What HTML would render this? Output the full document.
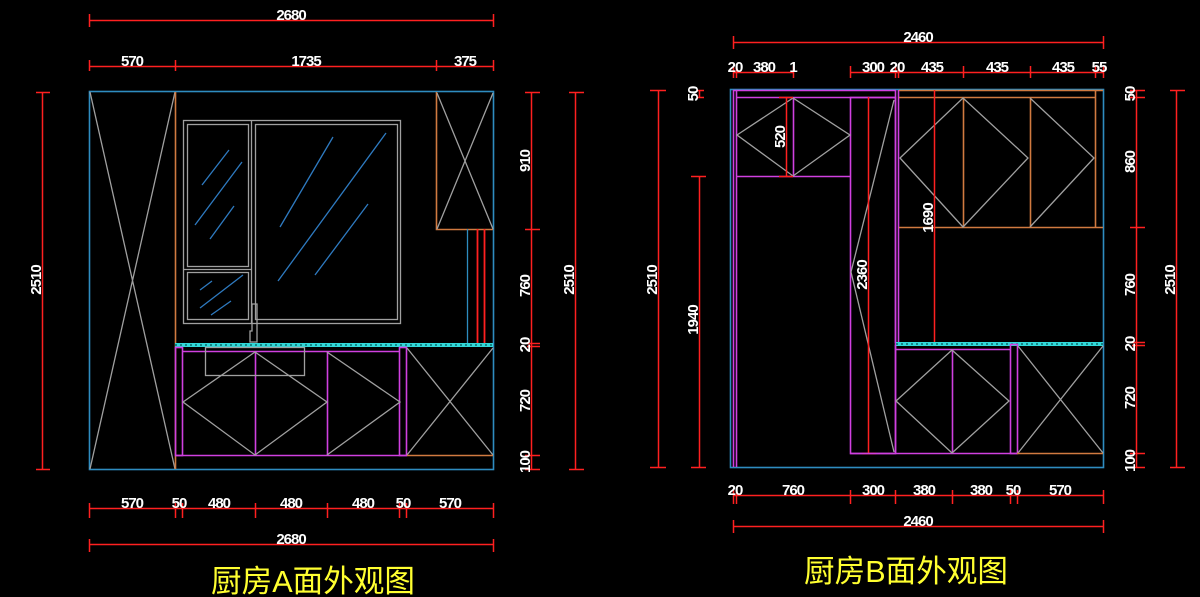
<!DOCTYPE html>
<html><head><meta charset="utf-8"><style>
html,body{margin:0;padding:0;background:#000;}
svg{display:block}
.t{fill:#fff;font-family:"Liberation Sans",sans-serif;font-size:15px;font-weight:bold;letter-spacing:-1px;text-anchor:middle}
.y{fill:#ffff30;font-family:"Liberation Sans","Noto Sans CJK SC",sans-serif;font-size:31px}
</style></head><body>
<svg width="1200" height="597" viewBox="0 0 1200 597" xmlns="http://www.w3.org/2000/svg" fill="none" stroke-width="1.3">
<!-- ===== A ===== -->
<g>
<rect x="89.5" y="91.5" width="404" height="378" stroke="#2e8cc0" stroke-width="1.6"/>
<path d="M90 92 L175 469 M175 92 L90 469" stroke="#a0a0a0"/>
<line x1="175.5" y1="92" x2="175.5" y2="469" stroke="#d07a40" stroke-width="1.6"/>
<rect x="183.5" y="120.5" width="217" height="203" stroke="#a0a0a0"/>
<rect x="187.5" y="124.5" width="61" height="142" stroke="#a0a0a0"/>
<rect x="187.5" y="272.5" width="61" height="47" stroke="#a0a0a0"/>
<rect x="255.5" y="124.5" width="142" height="195" stroke="#a0a0a0"/>
<line x1="251.5" y1="120" x2="251.5" y2="323" stroke="#a0a0a0"/>
<line x1="183" y1="269.5" x2="251" y2="269.5" stroke="#a0a0a0"/>
<path d="M202 185 L229 150 M195 225 L242 162 M210 239 L234 206 M280 227 L333 137 M278 281 L386 133 M315 275 L368 204 M200 290 L212 281 M200 308 L243 275 M211 315 L231 301" stroke="#2e7ac0"/>
<path d="M252 304 L257 304 L257 333 M252 304 L252 331 L250 331 L250 342 L257 342 L257 333" stroke="#a0a0a0"/>
<path d="M436.5 92 L436.5 229.5 L493 229.5" stroke="#d07a40" stroke-width="1.6"/>
<path d="M437 93 L493 229 M493 93 L437 229" stroke="#a0a0a0"/>
<line x1="467.5" y1="229" x2="467.5" y2="343" stroke="#2e8cc0"/>
<line x1="477.5" y1="229" x2="477.5" y2="343" stroke="#ff2020" stroke-width="1.8"/>
<line x1="484.5" y1="229" x2="484.5" y2="343" stroke="#ff2020" stroke-width="1.8"/>
<rect x="175" y="343" width="318" height="4" fill="#30d8d8"/>
<line x1="175" y1="345" x2="493" y2="345" stroke="#0a5050" stroke-dasharray="2 3"/>
<rect x="175.5" y="347.5" width="7" height="108" stroke="#d040e0" stroke-width="1.6"/>
<path d="M182 351.5 L400 351.5 M175 455.5 L407 455.5 M255.5 351 L255.5 455 M327.5 351 L327.5 455" stroke="#d040e0" stroke-width="1.6"/>
<rect x="399.5" y="347.5" width="7" height="108" stroke="#d040e0" stroke-width="1.6"/>
<rect x="205.5" y="347.5" width="99" height="28" stroke="#a0a0a0"/>
<path d="M183 402 L255 352 L327 402 L255 455 Z M327 352 L400 402 L327 455 M407 348 L493 455 M493 348 L407 455" stroke="#a0a0a0"/>
<line x1="407" y1="455.5" x2="493" y2="455.5" stroke="#d07a40" stroke-width="1.6"/>
</g>
<g stroke="#ff2020" stroke-width="1.5">
<path d="M89 20.5 L493 20.5 M89.5 14 L89.5 27 M493.5 14 L493.5 27"/>
<path d="M89 66.5 L493 66.5 M89.5 60 L89.5 71 M175.5 60 L175.5 71 M436.5 60 L436.5 71 M493.5 60 L493.5 71"/>
<path d="M42.5 92 L42.5 469 M36 92.5 L50 92.5 M36 469.5 L50 469.5"/>
<path d="M531.5 92 L531.5 469 M525 92.5 L540 92.5 M525 229.5 L540 229.5 M527 343.5 L540 343.5 M527 346.5 L540 346.5 M525 455.5 L540 455.5 M525 469.5 L540 469.5"/>
<path d="M575.5 92 L575.5 469 M569 92.5 L584 92.5 M569 469.5 L584 469.5"/>
<path d="M89 508.5 L493 508.5 M89.5 503 L89.5 518 M175.5 503 L175.5 518 M182.5 503 L182.5 518 M255.5 503 L255.5 518 M327.5 503 L327.5 518 M399.5 503 L399.5 518 M406.5 503 L406.5 518 M493.5 503 L493.5 518"/>
<path d="M89 544.5 L493 544.5 M89.5 539 L89.5 552 M493.5 539 L493.5 552"/>
</g>
<g class="t">
<text x="291" y="20">2680</text>
<text x="132" y="66">570</text><text x="306" y="66">1735</text><text x="465" y="66">375</text>
<text x="132" y="508">570</text><text x="179" y="508">50</text><text x="219" y="508">480</text><text x="291" y="508">480</text><text x="363" y="508">480</text><text x="403" y="508">50</text><text x="450" y="508">570</text>
<text x="291" y="544">2680</text>
<text transform="translate(41,280) rotate(-90)">2510</text>
<text transform="translate(530,161) rotate(-90)">910</text>
<text transform="translate(530,286) rotate(-90)">760</text>
<text transform="translate(530,345) rotate(-90)">20</text>
<text transform="translate(530,401) rotate(-90)">720</text>
<text transform="translate(530,462) rotate(-90)">100</text>
<text transform="translate(574,280) rotate(-90)">2510</text>
</g>
<!-- ===== B ===== -->
<g>
<rect x="730.5" y="89.5" width="373" height="378" stroke="#2e8cc0" stroke-width="1.6"/>
<path d="M733.5 90 L733.5 467 M736.5 90 L736.5 467 M733 90.5 L896 90.5 M736 97.5 L896 97.5 M736 176.5 L850 176.5 M793.5 97 L793.5 176" stroke="#d040e0" stroke-width="1.6"/>
<rect x="850.5" y="97.5" width="45" height="356" stroke="#d040e0" stroke-width="1.6"/>
<path d="M895.5 90 L895.5 343 M898.5 90 L898.5 343" stroke="#d040e0" stroke-width="1.6"/>
<path d="M737 135 L793 98 L850 135 L793 176 Z M894 100 L851 272 L894 452" stroke="#a0a0a0"/>
<path d="M899 90.5 L1103 90.5 M899 97.5 L1095 97.5 M899 227.5 L1103 227.5 M963.5 97 L963.5 227 M1030.5 97 L1030.5 227 M1095.5 90 L1095.5 227" stroke="#d07a40" stroke-width="1.6"/>
<path d="M900 158 L963 98 L1028 158 L963 227 Z M1030 98 L1094 158 L1030 227" stroke="#a0a0a0"/>
<path d="M786.5 97 L786.5 176 M779 97.5 L793 97.5 M779 176.5 L793 176.5 M868.5 97 L868.5 453 M862 453.5 L876 453.5 M934.5 90 L934.5 344 M928 343.5 L942 343.5" stroke="#ff2020" stroke-width="1.5"/>
<rect x="896" y="342" width="207" height="4" fill="#30d8d8"/>
<line x1="896" y1="344" x2="1103" y2="344" stroke="#0a5050" stroke-dasharray="2 3"/>
<path d="M895.5 345 L895.5 453 M896 349.5 L1010 349.5 M850 453.5 L1017 453.5 M952.5 349 L952.5 453" stroke="#d040e0" stroke-width="1.6"/>
<rect x="1010.5" y="344.5" width="7" height="109" stroke="#d040e0" stroke-width="1.6"/>
<path d="M896 401 L952 350 L1009 401 L952 453 Z M1018 346 L1103 453 M1103 346 L1018 453" stroke="#a0a0a0"/>
<line x1="1017" y1="453.5" x2="1103" y2="453.5" stroke="#d07a40" stroke-width="1.6"/>
</g>
<g stroke="#ff2020" stroke-width="1.5">
<path d="M733 42.5 L1103 42.5 M733.5 36 L733.5 49 M1103.5 36 L1103.5 49"/>
<path d="M733 72.5 L793 72.5 M733.5 66 L733.5 78 M736.5 66 L736.5 78 M793.5 66 L793.5 78"/>
<path d="M850 72.5 L1103 72.5 M850.5 66 L850.5 78 M895.5 66 L895.5 78 M898.5 66 L898.5 78 M963.5 66 L963.5 78 M1030.5 66 L1030.5 78 M1095.5 66 L1095.5 78 M1103.5 66 L1103.5 78"/>
<path d="M658.5 90 L658.5 467 M650 90.5 L666 90.5 M650 467.5 L666 467.5"/>
<path d="M699.5 176 L699.5 467 M691 176.5 L706 176.5 M691 467.5 L706 467.5 M699.5 90 L699.5 97 M697 90.5 L704 90.5 M697 97.5 L704 97.5"/>
<path d="M1136.5 90 L1136.5 467 M1130 90.5 L1145 90.5 M1130 97.5 L1145 97.5 M1130 227.5 L1145 227.5 M1132 342.5 L1145 342.5 M1132 345.5 L1145 345.5 M1130 453.5 L1145 453.5 M1130 467.5 L1145 467.5"/>
<path d="M1176.5 90 L1176.5 467 M1170 90.5 L1185 90.5 M1170 467.5 L1185 467.5"/>
<path d="M733 495.5 L1103 495.5 M733.5 490 L733.5 504 M736.5 490 L736.5 504 M850.5 490 L850.5 504 M895.5 490 L895.5 504 M952.5 490 L952.5 504 M1010.5 490 L1010.5 504 M1017.5 490 L1017.5 504 M1103.5 490 L1103.5 504"/>
<path d="M733 526.5 L1103 526.5 M733.5 520 L733.5 533 M1103.5 520 L1103.5 533"/>
</g>
<g class="t">
<text x="918" y="42">2460</text>
<text x="735" y="72">20</text><text x="764" y="72">380</text><text x="793" y="72">1</text>
<text x="873" y="72">300</text><text x="897" y="72">20</text><text x="932" y="72">435</text><text x="997" y="72">435</text><text x="1063" y="72">435</text><text x="1099" y="72">55</text>
<text x="735" y="495">20</text><text x="793" y="495">760</text><text x="873" y="495">300</text><text x="924" y="495">380</text><text x="981" y="495">380</text><text x="1013" y="495">50</text><text x="1060" y="495">570</text>
<text x="918" y="526">2460</text>
<text transform="translate(657,280) rotate(-90)">2510</text>
<text transform="translate(698,320) rotate(-90)">1940</text>
<text transform="translate(698,94) rotate(-90)">50</text>
<text transform="translate(785,137) rotate(-90)">520</text>
<text transform="translate(867,275) rotate(-90)">2360</text>
<text transform="translate(933,218) rotate(-90)">1690</text>
<text transform="translate(1135,94) rotate(-90)">50</text>
<text transform="translate(1135,162) rotate(-90)">860</text>
<text transform="translate(1135,285) rotate(-90)">760</text>
<text transform="translate(1135,344) rotate(-90)">20</text>
<text transform="translate(1135,398) rotate(-90)">720</text>
<text transform="translate(1135,461) rotate(-90)">100</text>
<text transform="translate(1175,280) rotate(-90)">2510</text>
</g>
<text class="y" x="211" y="592" textLength="204" lengthAdjust="spacingAndGlyphs">厨房A面外观图</text>
<text class="y" x="804" y="582" textLength="204" lengthAdjust="spacingAndGlyphs">厨房B面外观图</text>
</svg>
</body></html>
